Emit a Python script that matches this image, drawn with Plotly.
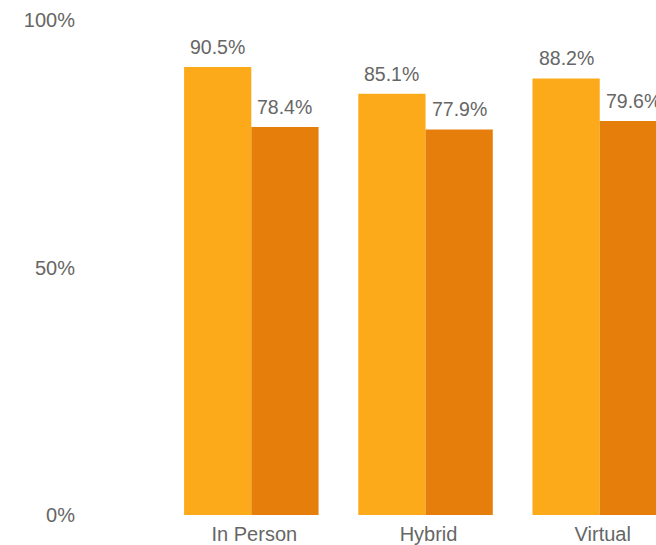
import plotly.graph_objects as go

categories = ["In Person", "Hybrid", "Virtual"]
series_a = [90.5, 85.1, 88.2]
series_b = [78.4, 77.9, 79.6]
y_ticks = [0, 50, 100]
y_tick_labels = ["0%", "50%", "100%"]

color_a = "#FCAA1A"
color_b = "#E67E0B"
text_color = "#666666"
font_family = "Liberation Sans, Arial, sans-serif"

W, H = 656, 545
margin = dict(l=78, r=0, t=20, b=30)
x_range = [-0.995, 2.323]
bargap = 0.228

fig = go.Figure()
for vals, col in ((series_a, color_a), (series_b, color_b)):
    fig.add_trace(go.Bar(
        x=categories,
        y=vals,
        marker=dict(color=col, line=dict(width=0)),
        hoverinfo="skip",
    ))

# value labels sit above the centre of each bar in its group
px_per_unit = (W - margin["l"] - margin["r"]) / (x_range[1] - x_range[0])
half_bar_px = (1 - bargap) / 2 * px_per_unit / 2
for vals, sign in ((series_a, -1), (series_b, 1)):
    for cat, v in zip(categories, vals):
        fig.add_annotation(
            x=cat, y=v, text=f"{v:.1f}%",
            xref="x", yref="y",
            xshift=sign * half_bar_px, yshift=7,
            yanchor="bottom", showarrow=False,
            font=dict(size=19.5, color=text_color, family=font_family),
        )

fig.update_layout(
    width=W,
    height=H,
    margin=margin,
    barmode="group",
    bargap=bargap,
    bargroupgap=0,
    showlegend=False,
    plot_bgcolor="white",
    paper_bgcolor="white",
    font=dict(family=font_family, size=20, color=text_color),
)
fig.update_xaxes(
    type="category",
    range=x_range,
    showgrid=False,
    showline=False,
    zeroline=False,
    ticks="",
    ticklabelstandoff=5,
    ticklabelshift=3,
    tickfont=dict(size=20, color=text_color),
)
fig.update_yaxes(
    range=[0, 100],
    tickvals=y_ticks,
    ticktext=y_tick_labels,
    showgrid=False,
    showline=False,
    zeroline=False,
    ticks="",
    ticklabelstandoff=2,
    tickfont=dict(size=20, color=text_color),
)

fig.write_html("out.html")
